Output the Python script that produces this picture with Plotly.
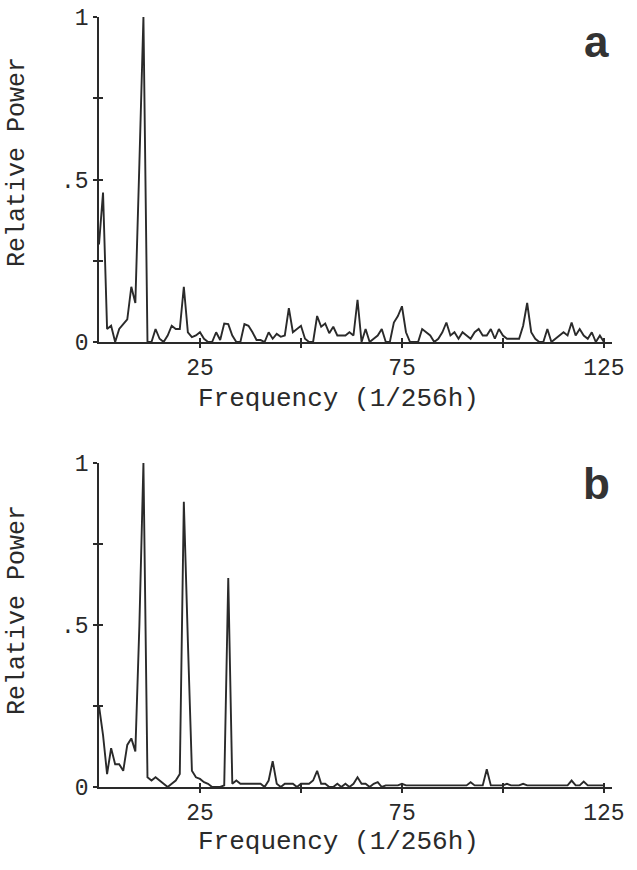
import plotly.graph_objects as go

# ---- data ----
freq = list(range(0, 126))

power_a = [0.30, 0.46, 0.04, 0.05, 0.00, 0.04, 0.055, 0.07, 0.17, 0.12,
           0.55, 1.00, 0.00, 0.00, 0.04, 0.01, 0.00, 0.02, 0.05, 0.04,
           0.04, 0.17, 0.03, 0.015, 0.02, 0.03, 0.01, 0.00, 0.00, 0.03,
           0.006, 0.057, 0.055, 0.02, 0.00, 0.00, 0.055, 0.05, 0.03, 0.006,
           0.006, 0.00, 0.03, 0.01, 0.025, 0.016, 0.02, 0.104, 0.03, 0.04,
           0.05, 0.01, 0.00, 0.00, 0.08, 0.047, 0.057, 0.027, 0.047, 0.02,
           0.02, 0.02, 0.03, 0.02, 0.13, 0.00, 0.04, 0.00, 0.01, 0.02,
           0.04, 0.00, 0.00, 0.06, 0.08, 0.11, 0.03, 0.00, 0.00, 0.00,
           0.04, 0.03, 0.02, 0.00, 0.01, 0.03, 0.06, 0.02, 0.03, 0.01,
           0.03, 0.02, 0.01, 0.03, 0.04, 0.02, 0.02, 0.04, 0.01, 0.04,
           0.02, 0.01, 0.01, 0.01, 0.01, 0.05, 0.12, 0.03, 0.01, 0.00,
           0.00, 0.04, 0.00, 0.01, 0.02, 0.03, 0.02, 0.06, 0.02, 0.04,
           0.02, 0.01, 0.03, 0.00, 0.02, 0.00]

power_b = [0.25, 0.16, 0.04, 0.12, 0.07, 0.07, 0.05, 0.13, 0.15, 0.11,
           0.50, 1.00, 0.03, 0.02, 0.03, 0.02, 0.01, 0.00, 0.01, 0.02,
           0.04, 0.88, 0.45, 0.05, 0.03, 0.025, 0.015, 0.01, 0.00, 0.00,
           0.00, 0.005, 0.645, 0.01, 0.02, 0.01, 0.01, 0.01, 0.01, 0.01,
           0.01, 0.00, 0.02, 0.08, 0.01, 0.00, 0.01, 0.01, 0.01, 0.00,
           0.01, 0.01, 0.01, 0.02, 0.05, 0.01, 0.01, 0.00, 0.00, 0.01,
           0.00, 0.01, 0.00, 0.01, 0.03, 0.01, 0.01, 0.00, 0.01, 0.015,
           0.00, 0.005, 0.005, 0.005, 0.005, 0.01, 0.005, 0.005, 0.005, 0.005,
           0.005, 0.005, 0.005, 0.005, 0.005, 0.005, 0.005, 0.005, 0.005, 0.005,
           0.005, 0.005, 0.015, 0.005, 0.005, 0.005, 0.055, 0.005, 0.005, 0.005,
           0.005, 0.01, 0.005, 0.005, 0.005, 0.01, 0.005, 0.005, 0.005, 0.005,
           0.005, 0.005, 0.005, 0.005, 0.005, 0.005, 0.005, 0.02, 0.005, 0.005,
           0.017, 0.005, 0.005, 0.005, 0.005, 0.005]

x_tickvals = [25, 50, 75, 100, 125]
x_ticktext = ["25", "", "75", "", "125"]
y_tickvals = [0, 0.25, 0.5, 0.75, 1]
y_ticktext = ["0", "", ".5", "", "1"]
x_title = "Frequency (1/256h)"
y_title = "Relative Power"
panel_labels = ["a", "b"]

# ---- layout geometry (paper fractions) ----
W, H = 637, 870
x_dom = [99 / W, 612 / W]
y_doms = [[1 - 342 / H, 1 - 17 / H], [1 - 787 / H, 1 - 463 / H]]
x_range = [0, 127]
y_range = [0, 1]

INK = "#2a2a2a"
MONO = "Liberation Mono"
tick_font = dict(family=MONO, size=23, color=INK)

fig = go.Figure()
layout = dict(
    width=W, height=H, autosize=False,
    margin=dict(l=0, r=0, t=0, b=0, pad=0, autoexpand=False),
    paper_bgcolor="white", plot_bgcolor="white",
    showlegend=False,
)

series = [power_a, power_b]
for i, vals in enumerate(series):
    n = 2 * i + 1          # main axes index
    m = 2 * i + 2          # overlay axes for inside ticks
    xs = "" if n == 1 else str(n)
    fig.add_trace(go.Scatter(x=freq, y=vals, mode="lines",
                             line=dict(color=INK, width=1.9),
                             xaxis="x" + xs, yaxis="y" + xs,
                             hoverinfo="skip", cliponaxis=False))
    fig.add_trace(go.Scatter(x=[None], y=[None], mode="lines",
                             xaxis="x" + str(m), yaxis="y" + str(m),
                             hoverinfo="skip"))
    common_x = dict(range=x_range, domain=x_dom, showgrid=False, zeroline=False,
                    automargin=False,
                    tickmode="array", tickvals=x_tickvals, fixedrange=True)
    common_y = dict(range=y_range, domain=y_doms[i], showgrid=False, zeroline=False,
                    automargin=False,
                    tickmode="array", tickvals=y_tickvals, fixedrange=True)
    layout["xaxis" + xs] = dict(common_x, anchor="y" + xs, showline=True,
                                linecolor=INK, linewidth=1.6,
                                ticks="outside", ticklen=4, tickwidth=1.6, tickcolor=INK,
                                ticktext=x_ticktext, tickfont=tick_font,
                                ticklabelstandoff=0)
    layout["yaxis" + xs] = dict(common_y, anchor="x" + xs, showline=True,
                                linecolor=INK, linewidth=1.6,
                                ticks="outside", ticklen=4, tickwidth=1.6, tickcolor=INK,
                                ticktext=y_ticktext, tickfont=tick_font,
                                ticklabelstandoff=0)
    layout["xaxis" + str(m)] = dict(common_x, anchor="y" + str(m), overlaying="x" + xs,
                                    showline=False, ticks="inside", ticklen=4,
                                    tickwidth=1.6, tickcolor=INK, showticklabels=False)
    layout["yaxis" + str(m)] = dict(common_y, anchor="x" + str(m), overlaying="y" + xs,
                                    showline=False, ticks="inside", ticklen=4,
                                    tickwidth=1.6, tickcolor=INK, showticklabels=False)

fig.update_layout(**layout)

# titles & panel letters
title_font = dict(family=MONO, size=26, color=INK)
x_title_y = [1 - 399 / H, 1 - 842 / H]
y_title_y = [1 - 162 / H, 1 - 610 / H]
letter_y = [1 - 41 / H, 1 - 483 / H]
for i in range(2):
    fig.add_annotation(text=x_title, x=338 / W, y=x_title_y[i], xref="paper", yref="paper",
                       showarrow=False, xanchor="center", yanchor="middle", font=title_font)
    fig.add_annotation(text=y_title, x=17 / W, y=y_title_y[i], xref="paper", yref="paper",
                       showarrow=False, xanchor="center", yanchor="middle", textangle=-90,
                       font=dict(family=MONO, size=25, color=INK))
    fig.add_annotation(text="<b>" + panel_labels[i] + "</b>", x=596 / W, y=letter_y[i],
                       xref="paper", yref="paper", showarrow=False,
                       xanchor="center", yanchor="middle",
                       font=dict(family="Liberation Sans", size=44, color="#333333"))

fig.write_html("out.html")
